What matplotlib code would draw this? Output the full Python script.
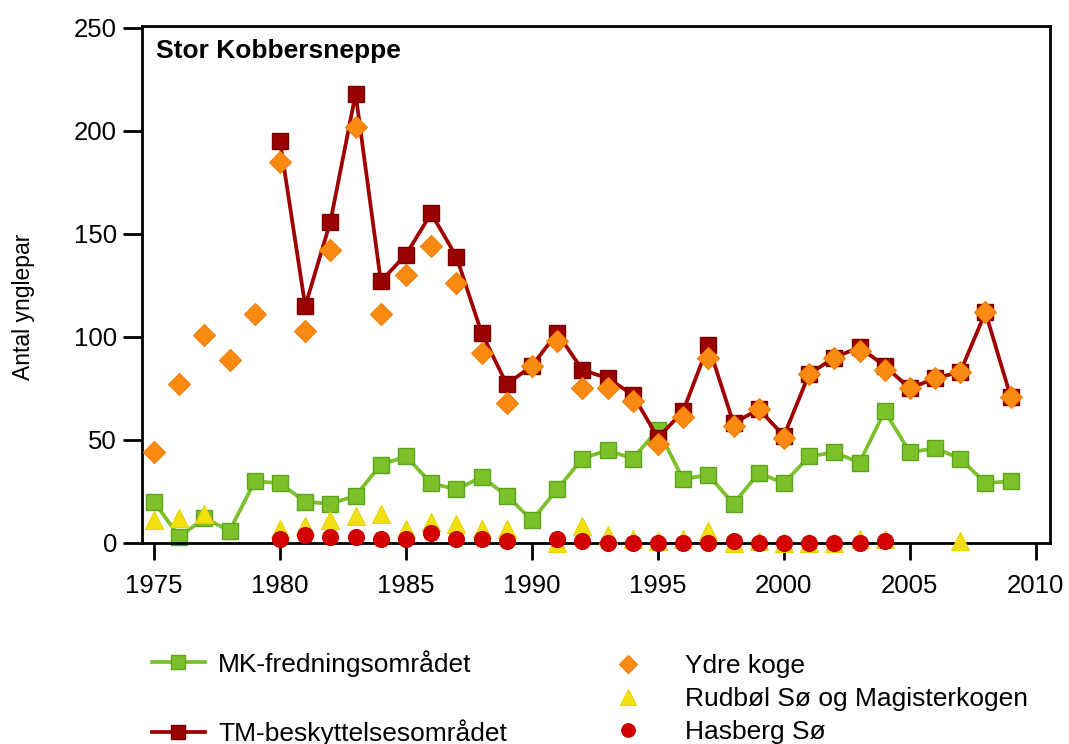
import numpy as np
import matplotlib.pyplot as plt
from matplotlib.lines import Line2D

plt.rcParams['font.family'] = ['Liberation Sans', 'DejaVu Sans']

# MK-fredningsområdet (1975-2009)
mk_years = list(range(1975, 2010))
mk_vals = [20, 3, 12, 6, 30, 29, 20, 19, 23, 38, 42, 29, 26, 32, 23, 11, 26, 41, 45, 41,
           55, 31, 33, 19, 34, 29, 42, 44, 39, 64, 44, 46, 41, 29, 30]

# TM-beskyttelsesområdet (1980-2009)
tm_years = list(range(1980, 2010))
tm_vals = [195, 115, 156, 218, 127, 140, 160, 139, 102, 77, 86, 102, 84, 80, 72, 51, 64, 96,
           58, 65, 52, 82, 90, 95, 86, 75, 80, 83, 112, 71]

# Ydre koge
ydre_years = list(range(1975, 2010))
ydre_vals = [44, 77, 101, 89, 111, 185, 103, 142, 202, 111, 130, 144, 126, 92, 68, 86, 98, 75,
             75, 69, 48, 61, 90, 57, 65, 51, 82, 90, 93, 84, 75, 80, 83, 112, 71]

# Rudbøl Sø og Magisterkogen
rud_years = [1975, 1976, 1977, 1980, 1981, 1982, 1983, 1984, 1985, 1986, 1987, 1988, 1989,
             1991, 1992, 1993, 1994, 1995, 1996, 1997, 1998, 1999, 2000, 2001, 2002, 2003,
             2004, 2007]
rud_vals = [11, 12, 14, 7, 8, 11, 13, 14, 7, 10, 9, 7, 7,
            0, 8, 4, 2, 1, 2, 6, 0, 1, 0, 0, 0, 2, 2, 1]

# Hasberg Sø
has_years = [1980, 1981, 1982, 1983, 1984, 1985, 1986, 1987, 1988, 1989,
             1991, 1992, 1993, 1994, 1995, 1996, 1997, 1998, 1999, 2000, 2001, 2002, 2003, 2004]
has_vals = [2, 4, 3, 3, 2, 2, 5, 2, 2, 1,
            2, 1, 0, 0, 0, 0, 0, 1, 0, 0, 0, 0, 0, 1]

green = '#7cc02a'
green_edge = '#5ba51c'
dred = '#a00000'
orange = '#fb8a12'
yellow = '#f2df10'
red = '#d40000'

fig = plt.figure(figsize=(10.69, 7.44), dpi=100)
ax = fig.add_axes([0.1328, 0.2702, 0.8494, 0.695])

ax.plot(mk_years, mk_vals, color=green, lw=2.7, marker='s', ms=11.5,
        mfc=green, mec=green_edge, mew=1, zorder=2, clip_on=False,
        label='MK-fredningsområdet')
ax.plot(tm_years, tm_vals, color=dred, lw=2.7, marker='s', ms=11.5,
        mfc='#9a0000', mec='#7a0000', mew=1, zorder=3, clip_on=False,
        label='TM-beskyttelsesområdet')
ax.plot(ydre_years, ydre_vals, ls='none', marker='D', ms=11,
        mfc=orange, mec='#f07e08', mew=0.8, zorder=4, clip_on=False,
        label='Ydre koge')
ax.plot(rud_years, rud_vals, ls='none', marker='^', ms=13.5,
        mfc=yellow, mec='#e8d400', mew=0.8, zorder=5, clip_on=False,
        label='Rudbøl Sø og Magisterkogen')
ax.plot(has_years, has_vals, ls='none', marker='o', ms=11.5,
        mfc=red, mec='#c00000', mew=0.8, zorder=6, clip_on=False,
        label='Hasberg Sø')

ax.set_xlim(1974.52, 2010.56)
ax.set_ylim(0, 251)
ax.set_xticks(range(1975, 2011, 5))
ax.set_yticks(range(0, 251, 50))
ax.tick_params(axis='both', direction='out', length=12, width=2, labelsize=18.5,
               colors='black')
ax.tick_params(axis='y', length=14, pad=4)
ax.tick_params(axis='x', pad=10)
for s in ax.spines.values():
    s.set_linewidth(2)

ax.set_ylabel('Antal ynglepar', fontsize=16.5)
ax.yaxis.set_label_coords(-0.118, 0.456)
ax.text(0.016, 0.975, 'Stor Kobbersneppe', transform=ax.transAxes, fontsize=19,
        fontweight='bold', va='top', ha='left')

h = {l.get_label(): l for l in ax.get_lines()}
blank = Line2D([], [], ls='none', marker='none')
leg_kw = dict(loc='upper left', frameon=False, fontsize=19, borderpad=0,
              borderaxespad=0, labelspacing=0.35, markerscale=0.85)
fig.legend([h['MK-fredningsområdet'], blank, h['TM-beskyttelsesområdet']],
           ['MK-fredningsområdet', ' ', 'TM-beskyttelsesområdet'],
           bbox_to_anchor=(152 / 1069, 1 - 650 / 744),
           handlelength=2.0, handletextpad=0.5, **leg_kw)
fig.legend([h['Ydre koge'], h['Rudbøl Sø og Magisterkogen'], h['Hasberg Sø']],
           ['Ydre koge', 'Rudbøl Sø og Magisterkogen', 'Hasberg Sø'],
           bbox_to_anchor=(602 / 1069, 1 - 654 / 744),
           handlelength=2.0, handletextpad=1.16, **leg_kw)

plt.savefig('out.png', dpi=100)
